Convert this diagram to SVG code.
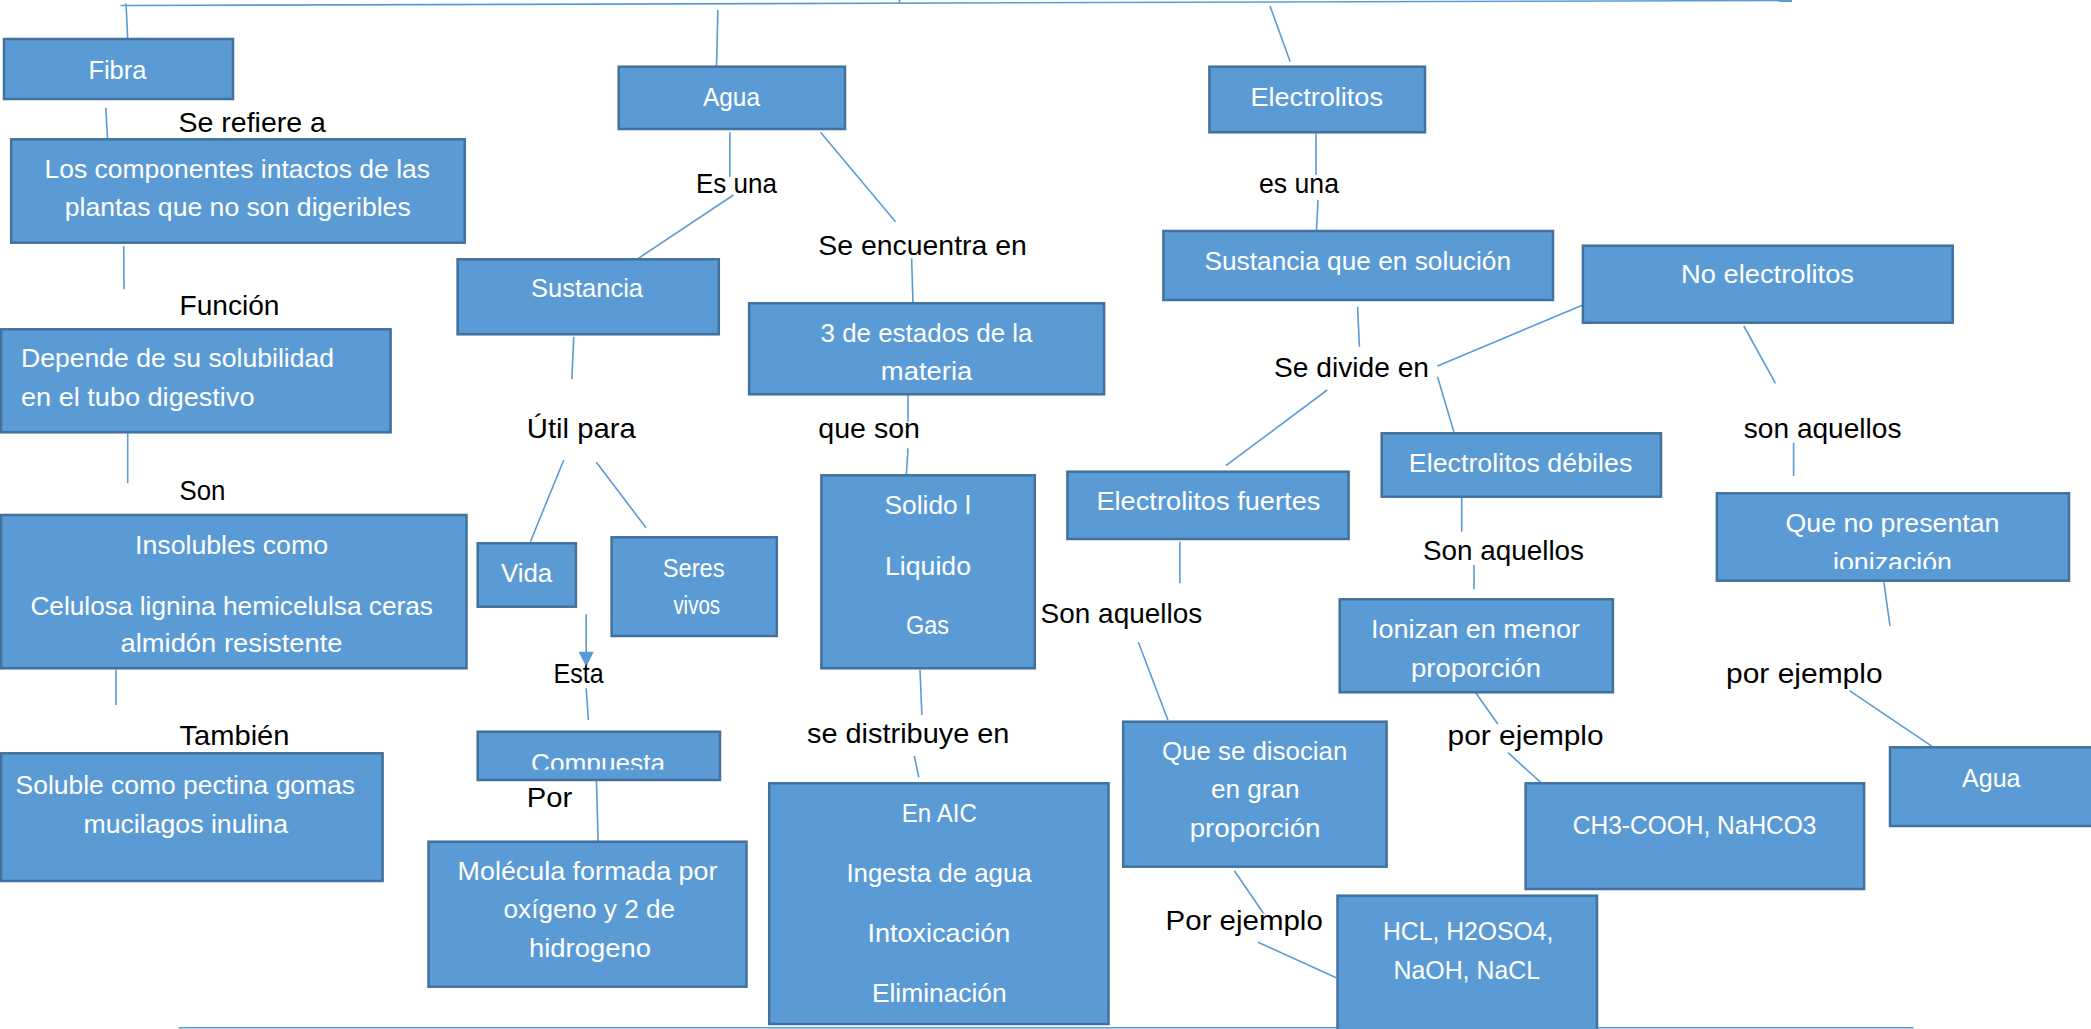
<svg xmlns="http://www.w3.org/2000/svg" width="2091" height="1029" viewBox="0 0 2091 1029">
<style>
.box{fill:#5B9BD5;stroke:#41719C;stroke-width:2.5}
.bt{fill:#fff;font-family:"Liberation Sans",Arial,sans-serif;font-size:25px}
.lb{fill:#000;font-family:"Liberation Sans",Arial,sans-serif;font-size:28px}
.cn line{stroke:#5B9BD5;stroke-width:1.6;fill:none}
</style>
<defs>
<clipPath id="clipComp"><rect x="470" y="730" width="260" height="39.5"/></clipPath>
<clipPath id="clipIon"><rect x="1710" y="490" width="370" height="79"/></clipPath>
</defs>
<rect width="2091" height="1029" fill="#fff"/>
<g id="connectors" class="cn">
<line x1="120.5" y1="5.5" x2="1792" y2="0.5"/>
<line x1="899.5" y1="0" x2="899.5" y2="3"/>
<line x1="178.6" y1="1027.7" x2="1913.4" y2="1027.7"/>
<line x1="126" y1="3.3" x2="127.7" y2="38.3"/>
<line x1="105.8" y1="107.7" x2="107.6" y2="139.3"/>
<line x1="123.7" y1="246" x2="124" y2="289.3"/>
<line x1="127.7" y1="433.3" x2="127.7" y2="483.3"/>
<line x1="116" y1="670" x2="116" y2="705"/>
<line x1="717.9" y1="10" x2="716.5" y2="66.7"/>
<line x1="729.9" y1="132.3" x2="729.9" y2="176.7"/>
<line x1="733.5" y1="195" x2="638.4" y2="258.3"/>
<line x1="820.5" y1="132.3" x2="895.5" y2="221.7"/>
<line x1="911.6" y1="258.3" x2="913" y2="303.3"/>
<line x1="573.7" y1="336.7" x2="571.9" y2="379.3"/>
<line x1="563.8" y1="460" x2="530.4" y2="541.7"/>
<line x1="596.4" y1="462.3" x2="646" y2="527.7"/>
<line x1="586.2" y1="614.3" x2="586.2" y2="653"/>
<polygon points="578.6,651.7 593.8,651.7 586.2,666.7" fill="#5B9BD5"/>
<line x1="586.2" y1="688.3" x2="588.4" y2="720"/>
<line x1="596.4" y1="779" x2="598.2" y2="842.7"/>
<line x1="908" y1="393.3" x2="908" y2="421.7"/>
<line x1="908" y1="448.3" x2="906.3" y2="476"/>
<line x1="920" y1="670" x2="921.9" y2="715"/>
<line x1="914.3" y1="756" x2="918.8" y2="777.3"/>
<line x1="1270" y1="6" x2="1290.2" y2="61.7"/>
<line x1="1316" y1="133.3" x2="1316" y2="175"/>
<line x1="1318" y1="200" x2="1316.5" y2="230"/>
<line x1="1357.6" y1="306.7" x2="1359.4" y2="346.7"/>
<line x1="1327.2" y1="390" x2="1225.9" y2="465.7"/>
<line x1="1437.5" y1="366" x2="1582.9" y2="305"/>
<line x1="1437.5" y1="376.7" x2="1453.8" y2="431.7"/>
<line x1="1743.8" y1="326" x2="1775.5" y2="383.3"/>
<line x1="1179.9" y1="541.7" x2="1179.9" y2="583.3"/>
<line x1="1138.4" y1="642.3" x2="1167.9" y2="720"/>
<line x1="1461.7" y1="496.7" x2="1461.7" y2="531.7"/>
<line x1="1474" y1="565" x2="1474" y2="589.3"/>
<line x1="1793.6" y1="442.7" x2="1793.6" y2="476"/>
<line x1="1883.9" y1="582.3" x2="1890" y2="626"/>
<line x1="1849.5" y1="690.7" x2="1932.4" y2="746.7"/>
<line x1="1475" y1="691.7" x2="1497.8" y2="724"/>
<line x1="1508" y1="752.7" x2="1541" y2="782.7"/>
<line x1="1234.4" y1="870.7" x2="1263.4" y2="913.3"/>
<line x1="1258" y1="942.3" x2="1336.2" y2="977.7"/>
</g>
<g id="labels">
<text class="lb" x="178.6" y="131.7" textLength="147.3" lengthAdjust="spacingAndGlyphs">Se refiere a</text>
<text class="lb" x="179.5" y="315" textLength="100" lengthAdjust="spacingAndGlyphs">Función</text>
<text class="lb" x="179.5" y="500" textLength="46" lengthAdjust="spacingAndGlyphs">Son</text>
<text class="lb" x="179.5" y="745" textLength="110" lengthAdjust="spacingAndGlyphs">También</text>
<text class="lb" x="696" y="193.3" textLength="81" lengthAdjust="spacingAndGlyphs">Es una</text>
<text class="lb" x="818.3" y="255" textLength="208.5" lengthAdjust="spacingAndGlyphs">Se encuentra en</text>
<text class="lb" x="526.8" y="438.3" textLength="109" lengthAdjust="spacingAndGlyphs">Útil para</text>
<text class="lb" x="553.6" y="683.3" textLength="50" lengthAdjust="spacingAndGlyphs">Esta</text>
<text class="lb" x="526.8" y="806.7" textLength="45.5" lengthAdjust="spacingAndGlyphs">Por</text>
<text class="lb" x="818.3" y="438.3" textLength="101.7" lengthAdjust="spacingAndGlyphs">que son</text>
<text class="lb" x="807" y="743.3" textLength="202.4" lengthAdjust="spacingAndGlyphs">se distribuye en</text>
<text class="lb" x="1259" y="193.3" textLength="80" lengthAdjust="spacingAndGlyphs">es una</text>
<text class="lb" x="1274" y="376.7" textLength="155" lengthAdjust="spacingAndGlyphs">Se divide en</text>
<text class="lb" x="1040.6" y="623.3" textLength="161.6" lengthAdjust="spacingAndGlyphs">Son aquellos</text>
<text class="lb" x="1423" y="560" textLength="161" lengthAdjust="spacingAndGlyphs">Son aquellos</text>
<text class="lb" x="1743.8" y="438.3" textLength="157.7" lengthAdjust="spacingAndGlyphs">son aquellos</text>
<text class="lb" x="1726" y="683.3" textLength="156.6" lengthAdjust="spacingAndGlyphs">por ejemplo</text>
<text class="lb" x="1447.6" y="745" textLength="156" lengthAdjust="spacingAndGlyphs">por ejemplo</text>
<text class="lb" x="1165.6" y="930" textLength="157.2" lengthAdjust="spacingAndGlyphs">Por ejemplo</text>
</g>
<g id="fibra"><rect class="box" x="4" y="39" width="229" height="60"/><text class="bt" x="88.4" y="79" textLength="58" lengthAdjust="spacingAndGlyphs">Fibra</text></g>
<g id="componentes"><rect class="box" x="11.2" y="139.3" width="453.5" height="103.4"/>
<text class="bt" x="44.6" y="177.7" textLength="385.4" lengthAdjust="spacingAndGlyphs">Los componentes intactos de las</text>
<text class="bt" x="64.7" y="216" textLength="346" lengthAdjust="spacingAndGlyphs">plantas que no son digeribles</text></g>
<g id="depende"><rect class="box" x="1" y="329.3" width="389.6" height="103"/>
<text class="bt" x="21" y="367.3" textLength="313" lengthAdjust="spacingAndGlyphs">Depende de su solubilidad</text>
<text class="bt" x="21" y="406" textLength="233.5" lengthAdjust="spacingAndGlyphs">en el tubo digestivo</text></g>
<g id="insolubles"><rect class="box" x="1" y="515" width="465.5" height="153.3"/>
<text class="bt" x="135" y="554" textLength="193" lengthAdjust="spacingAndGlyphs">Insolubles como</text>
<text class="bt" x="30.4" y="615" textLength="402.6" lengthAdjust="spacingAndGlyphs">Celulosa lignina hemicelulsa ceras</text>
<text class="bt" x="120.5" y="651.7" textLength="222" lengthAdjust="spacingAndGlyphs">almidón resistente</text></g>
<g id="soluble"><rect class="box" x="1" y="753.3" width="381.6" height="127.7"/>
<text class="bt" x="15.6" y="794.3" textLength="339.4" lengthAdjust="spacingAndGlyphs">Soluble como pectina gomas</text>
<text class="bt" x="83.5" y="833.3" textLength="204.5" lengthAdjust="spacingAndGlyphs">mucilagos inulina</text></g>
<g id="agua"><rect class="box" x="618.7" y="66.7" width="226.3" height="62.3"/><text class="bt" x="703" y="106" textLength="57" lengthAdjust="spacingAndGlyphs">Agua</text></g>
<g id="sustancia"><rect class="box" x="457.6" y="259.3" width="261.2" height="75"/><text class="bt" x="531" y="297.3" textLength="112" lengthAdjust="spacingAndGlyphs">Sustancia</text></g>
<g id="estados"><rect class="box" x="749.1" y="303.3" width="355" height="91"/>
<text class="bt" x="820.5" y="341.7" textLength="212" lengthAdjust="spacingAndGlyphs">3 de estados de la</text>
<text class="bt" x="880.8" y="380" textLength="91.5" lengthAdjust="spacingAndGlyphs">materia</text></g>
<g id="vida"><rect class="box" x="477.7" y="543.3" width="98.2" height="63.4"/><text class="bt" x="500.9" y="581.7" textLength="51.3" lengthAdjust="spacingAndGlyphs">Vida</text></g>
<g id="seres"><rect class="box" x="611.6" y="537.3" width="165.2" height="98.7"/>
<text class="bt" x="662.7" y="576.7" textLength="62" lengthAdjust="spacingAndGlyphs">Seres</text>
<text class="bt" x="673.4" y="614.3" textLength="46.6" lengthAdjust="spacingAndGlyphs">vivos</text></g>
<g id="compuesta"><rect class="box" x="477.7" y="731.7" width="242.3" height="48.3"/>
<text class="bt" x="531" y="771.5" textLength="134" lengthAdjust="spacingAndGlyphs" clip-path="url(#clipComp)">Compuesta</text></g>
<g id="molecula"><rect class="box" x="428.5" y="841.7" width="318" height="145"/>
<text class="bt" x="457.6" y="880" textLength="259.8" lengthAdjust="spacingAndGlyphs">Molécula formada por</text>
<text class="bt" x="503.6" y="918.3" textLength="171.4" lengthAdjust="spacingAndGlyphs">oxígeno y 2 de</text>
<text class="bt" x="529" y="956.7" textLength="122" lengthAdjust="spacingAndGlyphs">hidrogeno</text></g>
<g id="solido"><rect class="box" x="821.4" y="475.3" width="213.4" height="193"/>
<text class="bt" x="884.4" y="514.3" textLength="86.6" lengthAdjust="spacingAndGlyphs">Solido l</text>
<text class="bt" x="885" y="575" textLength="86" lengthAdjust="spacingAndGlyphs">Liquido</text>
<text class="bt" x="906" y="634.3" textLength="43" lengthAdjust="spacingAndGlyphs">Gas</text></g>
<g id="enaic"><rect class="box" x="769.2" y="783.3" width="339.3" height="240.7"/>
<text class="bt" x="901.8" y="821.7" textLength="75" lengthAdjust="spacingAndGlyphs">En AIC</text>
<text class="bt" x="846.4" y="881.7" textLength="185.3" lengthAdjust="spacingAndGlyphs">Ingesta de agua</text>
<text class="bt" x="867.4" y="941.7" textLength="142.9" lengthAdjust="spacingAndGlyphs">Intoxicación</text>
<text class="bt" x="871.9" y="1001.7" textLength="134.8" lengthAdjust="spacingAndGlyphs">Eliminación</text></g>
<g id="electrolitos"><rect class="box" x="1209.4" y="66.7" width="215.6" height="65.6"/><text class="bt" x="1250.4" y="106" textLength="132.6" lengthAdjust="spacingAndGlyphs">Electrolitos</text></g>
<g id="sustsol"><rect class="box" x="1163.4" y="231" width="389.6" height="69"/><text class="bt" x="1204.5" y="270" textLength="306.5" lengthAdjust="spacingAndGlyphs">Sustancia que en solución</text></g>
<g id="noelec"><rect class="box" x="1582.9" y="245.7" width="369.8" height="77"/><text class="bt" x="1681" y="283.3" textLength="173" lengthAdjust="spacingAndGlyphs">No electrolitos</text></g>
<g id="fuertes"><rect class="box" x="1067.4" y="471.7" width="281.2" height="67.3"/><text class="bt" x="1096.4" y="510" textLength="224" lengthAdjust="spacingAndGlyphs">Electrolitos fuertes</text></g>
<g id="debiles"><rect class="box" x="1381.7" y="433.3" width="279.3" height="63.4"/><text class="bt" x="1408.8" y="471.7" textLength="223.5" lengthAdjust="spacingAndGlyphs">Electrolitos débiles</text></g>
<g id="ionizan"><rect class="box" x="1339.7" y="599.3" width="273.2" height="93"/>
<text class="bt" x="1371" y="638.3" textLength="209" lengthAdjust="spacingAndGlyphs">Ionizan en menor</text>
<text class="bt" x="1411" y="676.7" textLength="130" lengthAdjust="spacingAndGlyphs">proporción</text></g>
<g id="nopresentan"><rect class="box" x="1716.9" y="493.3" width="352.1" height="87.4"/>
<text class="bt" x="1785.6" y="531.7" textLength="213.8" lengthAdjust="spacingAndGlyphs">Que no presentan</text>
<text class="bt" x="1833" y="570.5" textLength="119" lengthAdjust="spacingAndGlyphs" clip-path="url(#clipIon)">ionización</text></g>
<g id="disocian"><rect class="box" x="1123.2" y="721.7" width="263.4" height="145"/>
<text class="bt" x="1162" y="760" textLength="185.3" lengthAdjust="spacingAndGlyphs">Que se disocian</text>
<text class="bt" x="1211" y="798.3" textLength="88.6" lengthAdjust="spacingAndGlyphs">en gran</text>
<text class="bt" x="1189.7" y="836.7" textLength="130.8" lengthAdjust="spacingAndGlyphs">proporción</text></g>
<g id="ch3"><rect class="box" x="1525.6" y="783.3" width="338.5" height="105.7"/><text class="bt" x="1572.8" y="834.3" textLength="243.7" lengthAdjust="spacingAndGlyphs">CH3-COOH, NaHCO3</text></g>
<g id="aguaR"><rect class="box" x="1890" y="747.3" width="203" height="78.7"/><text class="bt" x="1962" y="787.3" textLength="58.5" lengthAdjust="spacingAndGlyphs">Agua</text></g>
<g id="hcl"><rect class="box" x="1337.5" y="895.7" width="259.5" height="140"/>
<text class="bt" x="1383" y="940" textLength="170.5" lengthAdjust="spacingAndGlyphs">HCL, H2OSO4,</text>
<text class="bt" x="1393.5" y="979.3" textLength="146.5" lengthAdjust="spacingAndGlyphs">NaOH, NaCL</text></g>
</svg>
